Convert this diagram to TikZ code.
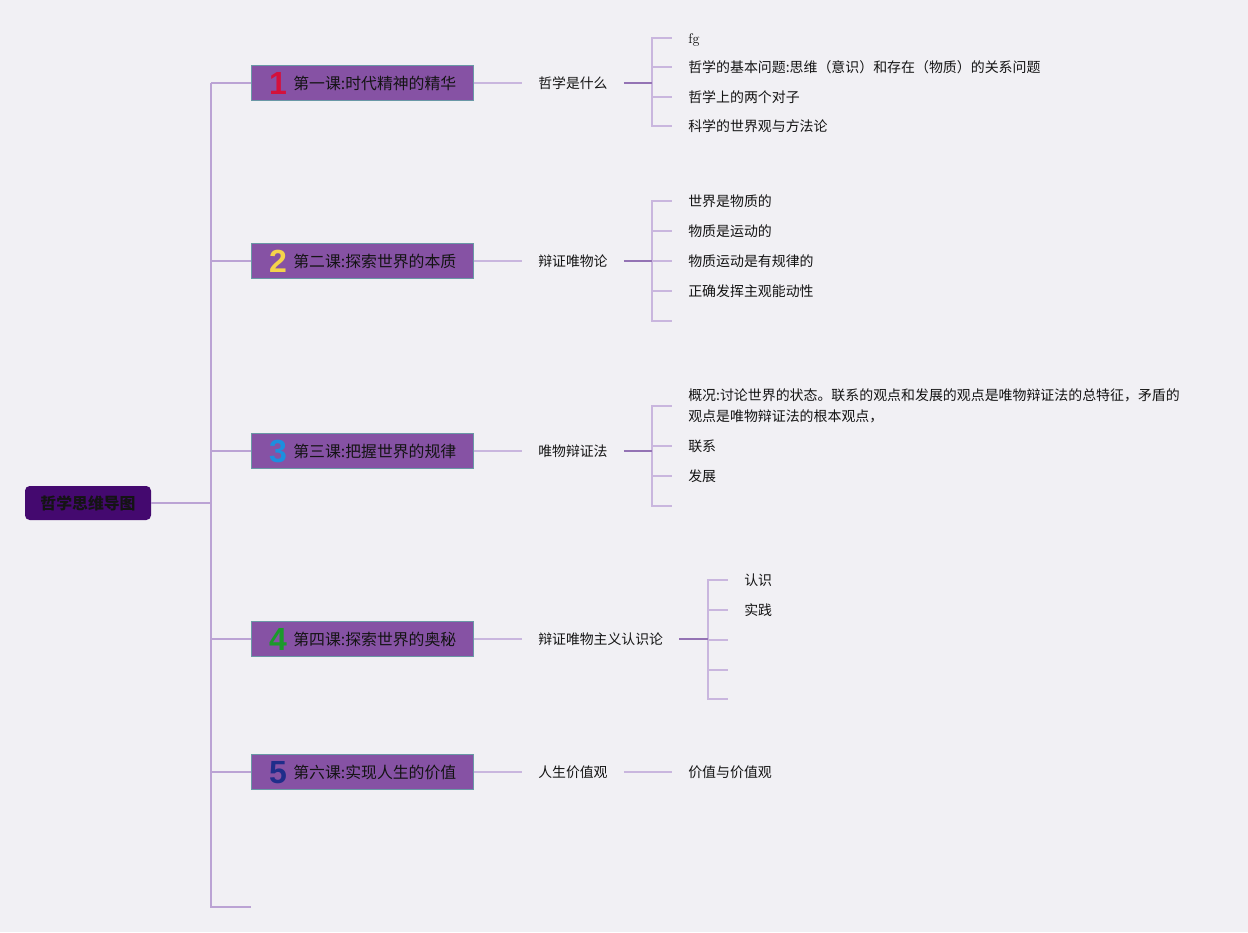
\documentclass[tikz,border=0pt]{standalone}
\usepackage{fontspec}
\newfontfamily\cjk{Noto Sans CJK SC}
\newfontfamily\numfont{Liberation Sans Bold}
\definecolor{bgc}{HTML}{F1F0F4}
\definecolor{rootfill}{HTML}{44096F}
\definecolor{boxfill}{HTML}{8652A4}
\definecolor{boxline}{HTML}{6A98A6}
\definecolor{lc}{HTML}{C9B6DE}
\definecolor{trunkc}{HTML}{BBA3D4}
\definecolor{darkc}{HTML}{9473B4}
\definecolor{txt}{HTML}{141414}
\definecolor{nred}{HTML}{D4113C}
\definecolor{nyel}{HTML}{F4D44A}
\definecolor{nblue}{HTML}{1C8FDF}
\definecolor{ngreen}{HTML}{1B9A2B}
\definecolor{nnavy}{HTML}{1F2D8A}
\tikzset{
  rootbox/.style={fill=rootfill, rounded corners=3.5pt, minimum width=94.5pt, minimum height=25.5pt, inner sep=0pt,
    font=\cjk\bfseries\fontsize{11.9pt}{14pt}\selectfont, text=txt},
  l1box/.style={fill=boxfill, draw=boxline, line width=0.75pt, minimum width=166.5pt, minimum height=26.25pt, inner sep=0pt},
  numst/.style={font=\numfont\fontsize{24pt}{26pt}\selectfont, inner sep=0pt, text height=17.2pt, text depth=0pt},
  l1text/.style={anchor=west, inner sep=0pt, font=\cjk\fontsize{11.9pt}{14pt}\selectfont, text=txt, text height=10.5pt, text depth=1.4pt},
  l2/.style={anchor=west, inner xsep=12pt, inner ysep=0pt, font=\cjk\fontsize{10.4pt}{13pt}\selectfont, text=txt, text height=9.15pt, text depth=1.25pt},
  kid/.style={anchor=west, inner xsep=12pt, inner ysep=0pt, font=\cjk\fontsize{10.45pt}{13pt}\selectfont, text=txt, text height=9.2pt, text depth=1.25pt},
  kidml/.style={anchor=west, inner xsep=12pt, inner ysep=0pt, align=left, font=\cjk\fontsize{10.45pt}{15.75pt}\selectfont, text=txt},
  trunkline/.style={draw=trunkc, line width=1.4pt},
  thinline/.style={draw=lc, line width=1.1pt},
  darkline/.style={draw=darkc, line width=1.7pt},
}
\begin{document}
\begin{tikzpicture}[x=0.75pt,y=-0.75pt]
\fill[bgc] (0,0) rectangle (1248,932);
\useasboundingbox (0,0) rectangle (1248,932);

% root
\node[rootbox] (root) at (88,503) {哲学思维导图};

% trunk coordinates
\coordinate (t1) at (211,83);
\coordinate (t2) at (211,261);
\coordinate (t3) at (211,451);
\coordinate (t4) at (211,639);
\coordinate (t5) at (211,772);
\coordinate (tr) at (211,503);
\coordinate (tend) at (211,907);
\coordinate (tstub) at (251,907);

% level 1 boxes
\node[l1box] (c1) at (362,83) {};
\node[l1box] (c2) at (362,261) {};
\node[l1box] (c3) at (362,451) {};
\node[l1box] (c4) at (362,639) {};
\node[l1box] (c5) at (362,772) {};
\node[numst, text=nred] (n1) at (278,83) {1};
\node[numst, text=nyel] (n2) at (278,261) {2};
\node[numst, text=nblue] (n3) at (278,451) {3};
\node[numst, text=ngreen] (n4) at (278,639) {4};
\node[numst, text=nnavy] (n5) at (278,772) {5};
\node[l1text] (c1t) at (293,83) {第一课:时代精神的精华};
\node[l1text] (c2t) at (293,261) {第二课:探索世界的本质};
\node[l1text] (c3t) at (293,451) {第三课:把握世界的规律};
\node[l1text] (c4t) at (293,639) {第四课:探索世界的奥秘};
\node[l1text] (c5t) at (293,772) {第六课:实现人生的价值};

% trunk lines
\draw[trunkline] (root.east) -- (tr);
\draw[trunkline] (t1) -- (tend) -- (tstub);
\foreach \i in {1,...,5} { \draw[trunkline] (t\i) -- (c\i.west); }

% level 2
\node[l2] (p1) at (522,83) {哲学是什么};
\node[l2] (p2) at (522,261) {辩证唯物论};
\node[l2] (p3) at (522,451) {唯物辩证法};
\node[l2] (p4) at (522,639) {辩证唯物主义认识论};
\node[l2] (p5) at (522,772) {人生价值观};
\foreach \i in {1,...,5} { \draw[thinline] (c\i.east) -- (p\i.west); }

% bracket junctions
\coordinate (b1) at (652,83);
\coordinate (b2) at (652,261);
\coordinate (b3) at (652,451);
\coordinate (b4) at (708,639);

% branch 1 children
\node[kid, font=\rmfamily\fontsize{10.45pt}{13pt}\selectfont] (k11) at (672,38) {fg};
\node[kid] (k12) at (672,67) {哲学的基本问题:思维（意识）和存在（物质）的关系问题};
\node[kid] (k13) at (672,97) {哲学上的两个对子};
\node[kid] (k14) at (672,126) {科学的世界观与方法论};
\foreach \j in {1,...,4} { \draw[thinline] (b1) |- (k1\j.west); }
\draw[darkline] (p1.east) -- (b1);

% branch 2 children
\node[kid] (k21) at (672,201) {世界是物质的};
\node[kid] (k22) at (672,231) {物质是运动的};
\node[kid] (k23) at (672,261) {物质运动是有规律的};
\node[kid] (k24) at (672,291) {正确发挥主观能动性};
\coordinate (k25) at (672,321);
\foreach \j in {1,...,4} { \draw[thinline] (b2) |- (k2\j.west); }
\draw[thinline] (b2) |- (k25);
\draw[darkline] (p2.east) -- (b2);

% branch 3 children
\node[kidml] (k31) at (672,406) {概况:讨论世界的状态。联系的观点和发展的观点是唯物辩证法的总特征，矛盾的\\观点是唯物辩证法的根本观点，};
\node[kid] (k32) at (672,446) {联系};
\node[kid] (k33) at (672,476) {发展};
\coordinate (k34) at (672,506);
\draw[thinline] (b3) |- (k31.west);
\draw[thinline] (b3) |- (k32.west);
\draw[thinline] (b3) |- (k33.west);
\draw[thinline] (b3) |- (k34);
\draw[darkline] (p3.east) -- (b3);

% branch 4 children
\node[kid] (k41) at (728,580) {认识};
\node[kid] (k42) at (728,610) {实践};
\coordinate (k43) at (728,640);
\coordinate (k44) at (728,670);
\coordinate (k45) at (728,699);
\draw[thinline] (b4) |- (k41.west);
\draw[thinline] (b4) |- (k42.west);
\draw[thinline] (b4) |- (k43);
\draw[thinline] (b4) |- (k44);
\draw[thinline] (b4) |- (k45);
\draw[darkline] (p4.east) -- (b4);

% branch 5
\node[kid] (k51) at (672,772) {价值与价值观};
\draw[thinline] (p5.east) -- (k51.west);
\end{tikzpicture}
\end{document}
